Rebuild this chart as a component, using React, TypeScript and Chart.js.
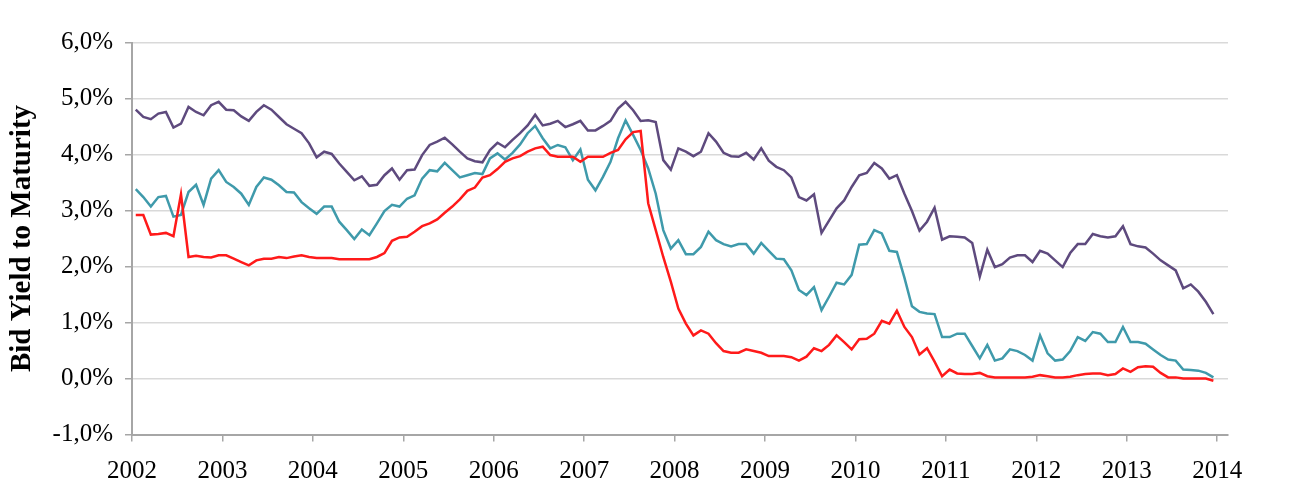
import React, { useEffect, useRef } from 'react';
import { Chart, registerables } from 'chart.js';

Chart.register(...registerables);

// Monthly bid yields to maturity (%), January 2002 – December 2013
const FIRST_YEAR = 2002;
const yearTicks = [2002, 2003, 2004, 2005, 2006, 2007, 2008, 2009, 2010, 2011, 2012, 2013, 2014];
const yieldTicks = [-1, 0, 1, 2, 3, 4, 5, 6];

const longYield = [
  4.80, 4.67, 4.63, 4.73, 4.76, 4.48, 4.55, 4.85, 4.76, 4.70, 4.88, 4.94,
  4.80, 4.79, 4.68, 4.60, 4.76, 4.88, 4.80, 4.67, 4.54, 4.46, 4.38, 4.20,
  3.95, 4.05, 4.01, 3.84, 3.69, 3.54, 3.61, 3.44, 3.46, 3.63, 3.75, 3.55,
  3.72, 3.73, 3.99, 4.17, 4.23, 4.30, 4.18, 4.05, 3.93, 3.88, 3.86, 4.08,
  4.21, 4.13, 4.26, 4.38, 4.52, 4.71, 4.52, 4.55, 4.60, 4.49, 4.54, 4.60,
  4.43, 4.43, 4.51, 4.60, 4.82, 4.94, 4.79, 4.60, 4.61, 4.58, 3.90, 3.73,
  4.11, 4.05, 3.97, 4.05, 4.38, 4.23, 4.03, 3.97, 3.96, 4.03, 3.91, 4.11,
  3.89, 3.78, 3.72, 3.59, 3.24, 3.18, 3.29, 2.60, 2.82, 3.04, 3.18, 3.42,
  3.63, 3.67, 3.85, 3.75, 3.57, 3.63, 3.30, 2.99, 2.64, 2.80, 3.05, 2.48,
  2.54, 2.53, 2.52, 2.42, 1.82, 2.30, 1.99, 2.04, 2.16, 2.20, 2.20, 2.08,
  2.28, 2.23, 2.11, 1.99, 2.24, 2.40, 2.40, 2.58, 2.54, 2.52, 2.54, 2.72,
  2.40, 2.36, 2.34, 2.23, 2.11, 2.02, 1.93, 1.61, 1.68, 1.55, 1.37, 1.15,
];

const midYield = [
  3.38, 3.24, 3.07, 3.24, 3.26, 2.89, 2.92, 3.33, 3.46, 3.10, 3.57, 3.72,
  3.51, 3.42, 3.30, 3.10, 3.42, 3.59, 3.55, 3.45, 3.33, 3.32, 3.15, 3.04,
  2.94, 3.07, 3.07, 2.80, 2.65, 2.49, 2.66, 2.56, 2.77, 2.99, 3.10, 3.07,
  3.21, 3.27, 3.57, 3.72, 3.70, 3.85, 3.72, 3.59, 3.63, 3.67, 3.65, 3.93,
  4.02, 3.91, 4.03, 4.18, 4.38, 4.51, 4.29, 4.11, 4.17, 4.13, 3.90, 4.09,
  3.55, 3.36, 3.60, 3.87, 4.29, 4.61, 4.35, 4.08, 3.75, 3.30, 2.65, 2.32,
  2.47, 2.22, 2.22, 2.35, 2.62, 2.47, 2.40, 2.36, 2.40, 2.40, 2.23, 2.42,
  2.28, 2.14, 2.13, 1.93, 1.58, 1.49, 1.63, 1.22, 1.46, 1.71, 1.68, 1.85,
  2.39, 2.40, 2.65, 2.59, 2.28, 2.26, 1.80, 1.29, 1.19, 1.16, 1.15, 0.74,
  0.74, 0.80, 0.80, 0.58, 0.36, 0.60, 0.32, 0.36, 0.52, 0.49, 0.42, 0.32,
  0.77, 0.45, 0.32, 0.34, 0.49, 0.74, 0.67, 0.83, 0.80, 0.65, 0.65, 0.92,
  0.65, 0.65, 0.62, 0.52, 0.42, 0.34, 0.32, 0.16, 0.15, 0.14, 0.10, 0.02,
];

const shortYield = [
  2.92, 2.92, 2.57, 2.58, 2.60, 2.54, 3.29, 2.17, 2.19, 2.17, 2.16, 2.20,
  2.20, 2.14, 2.08, 2.02, 2.11, 2.14, 2.14, 2.17, 2.15, 2.18, 2.20, 2.17,
  2.15, 2.15, 2.15, 2.13, 2.13, 2.13, 2.13, 2.13, 2.17, 2.24, 2.46, 2.52,
  2.53, 2.62, 2.72, 2.77, 2.84, 2.96, 3.07, 3.20, 3.35, 3.41, 3.59, 3.63,
  3.74, 3.87, 3.93, 3.97, 4.05, 4.11, 4.14, 3.99, 3.96, 3.96, 3.96, 3.87,
  3.96, 3.96, 3.96, 4.03, 4.08, 4.27, 4.40, 4.42, 3.13, 2.65, 2.17, 1.73,
  1.25, 0.98, 0.77, 0.86, 0.80, 0.63, 0.49, 0.46, 0.46, 0.52, 0.49, 0.46,
  0.40, 0.40, 0.40, 0.38, 0.32, 0.39, 0.54, 0.49, 0.60, 0.77, 0.65, 0.52,
  0.70, 0.71, 0.80, 1.03, 0.98, 1.21, 0.92, 0.74, 0.43, 0.54, 0.30, 0.04,
  0.16, 0.09, 0.08, 0.08, 0.10, 0.04, 0.02, 0.02, 0.02, 0.02, 0.02, 0.03,
  0.06, 0.04, 0.02, 0.02, 0.03, 0.06, 0.08, 0.09, 0.09, 0.06, 0.08, 0.18,
  0.12, 0.20, 0.22, 0.21, 0.10, 0.02, 0.02, 0.00, 0.00, 0.00, 0.00, -0.04,
];

// Each observation sits mid-month on a continuous year axis
const monthPositions = longYield.map((_, i) => FIRST_YEAR + (i + 0.5) / 12);

const toPoints = (values: number[]) => values.map((y, i) => ({ x: monthPositions[i], y }));

const AXIS_GRAY = '#A6A6A6';
const GRID_GRAY = '#D9D9D9';
const FONT_FAMILY = "'Liberation Serif', 'Times New Roman', serif";

export default function App() {
  const canvasRef = useRef<HTMLCanvasElement | null>(null);

  useEffect(() => {
    if (!canvasRef.current) return;
    const chart = new Chart(canvasRef.current, {
      type: 'line',
      data: {
        datasets: [
          {
            label: 'Short',
            data: toPoints(shortYield),
            borderColor: '#FF1A1A',
            borderWidth: 2.5,
            pointRadius: 0,
            tension: 0,
          },
          {
            label: 'Medium',
            data: toPoints(midYield),
            borderColor: '#3F9AAB',
            borderWidth: 2.5,
            pointRadius: 0,
            tension: 0,
          },
          {
            label: 'Long',
            data: toPoints(longYield),
            borderColor: '#5E4A7E',
            borderWidth: 2.5,
            pointRadius: 0,
            tension: 0,
          },
        ],
      },
      options: {
        animation: false,
        responsive: true,
        maintainAspectRatio: false,
        layout: { padding: { left: 0, right: 65, top: 42.5, bottom: 0 } },
        plugins: {
          legend: { display: false },
          tooltip: { enabled: false },
        },
        scales: {
          x: {
            type: 'linear',
            min: FIRST_YEAR,
            max: 2014.12,
            afterFit: (scale: any) => {
              scale.height = 52.5;
            },
            afterBuildTicks: (scale: any) => {
              scale.ticks = yearTicks.map((value) => ({ value }));
            },
            ticks: {
              autoSkip: false,
              maxRotation: 0,
              includeBounds: false,
              padding: 15,
              color: '#000',
              font: { family: FONT_FAMILY, size: 25 },
              callback: (value: any) => String(value),
            },
            grid: {
              drawOnChartArea: false,
              drawTicks: true,
              tickLength: 7,
              tickColor: AXIS_GRAY,
              lineWidth: 1.5,
            },
            border: { color: AXIS_GRAY, width: 2 },
          },
          y: {
            min: -1,
            max: 6,
            afterFit: (scale: any) => {
              scale.width = 132;
            },
            afterBuildTicks: (scale: any) => {
              scale.ticks = yieldTicks.map((value) => ({ value }));
            },
            ticks: {
              padding: 12,
              color: '#000',
              font: { family: FONT_FAMILY, size: 25 },
              callback: (value: any) => Number(value).toFixed(1).replace('.', ',') + '%',
            },
            grid: {
              color: (ctx: any) => (ctx.tick && ctx.tick.value === -1 ? 'rgba(0,0,0,0)' : GRID_GRAY),
              lineWidth: 1.5,
              tickLength: 7,
              tickColor: AXIS_GRAY,
            },
            border: { color: AXIS_GRAY, width: 2 },
            title: {
              display: true,
              text: 'Bid Yield to Maturity',
              color: '#000',
              padding: { top: 5, bottom: 0 },
              font: { family: FONT_FAMILY, size: 29, weight: 'bold' },
            },
          },
        },
      },
    });
    return () => chart.destroy();
  }, []);

  return (
    <div style={{ position: 'fixed', left: 0, top: 0, width: 1293, height: 487, background: '#fff' }}>
      <canvas ref={canvasRef} />
    </div>
  );
}
